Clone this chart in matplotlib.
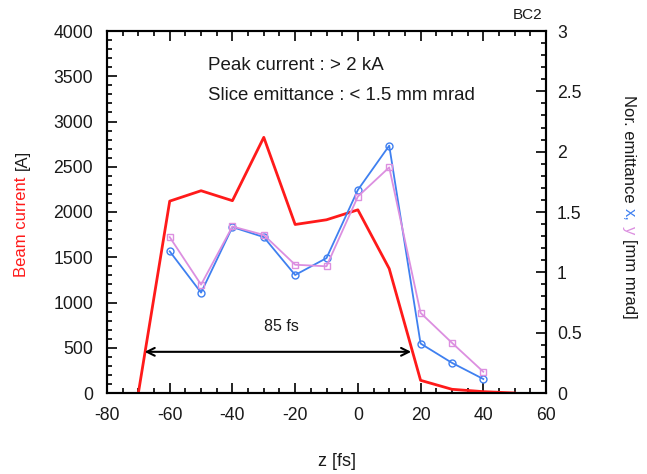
import matplotlib
matplotlib.use("Agg")
import matplotlib.pyplot as plt
from matplotlib.ticker import MultipleLocator

plt.rcParams['font.family'] = ['Liberation Sans', 'DejaVu Sans']
plt.rcParams['axes.unicode_minus'] = False

# Data
z_current = [-70, -60, -50, -40, -30, -20, -10, 0, 10, 20, 30, 40, 50]
current = [0, 2120, 2235, 2125, 2825, 1862, 1914, 2024, 1374, 140, 41, 15, 0]

z_emit = [-60, -50, -40, -30, -20, -10, 0, 10, 20, 30, 40]
emit_x = [1.174, 0.832, 1.375, 1.292, 0.978, 1.118, 1.683, 2.05, 0.41, 0.25, 0.116]
emit_y = [1.292, 0.898, 1.38, 1.31, 1.063, 1.05, 1.628, 1.87, 0.664, 0.416, 0.176]

arrow_start, arrow_end, arrow_level = -68, 17, 455

RED = '#ff1a1a'
BLUE = '#3f80f0'
PINK = '#dc8fe0'
TXT = '#1a1a1a'

W, H = 647, 474
fig = plt.figure(figsize=(W/100, H/100), dpi=100)
L, R, T, B = 107, 546, 31, 393
ax = fig.add_axes([L/W, 1-B/H, (R-L)/W, (B-T)/H])
ax2 = ax.twinx()

ax.plot(z_current, current, color=RED, lw=2.0, zorder=3)
ax2.plot(z_emit, emit_x, color=BLUE, lw=1.3, marker='o', ms=5, mfc='none', mec=BLUE, mew=1.0)
ax2.plot(z_emit, emit_y, color=PINK, lw=1.3, marker='s', ms=5, mfc='none', mec=PINK, mew=1.0)

ax.set_xlim(-80, 60)
ax.set_ylim(0, 4000)
ax2.set_ylim(0, 3)

fs = 12.7
ax.xaxis.set_major_locator(MultipleLocator(20))
ax.xaxis.set_minor_locator(MultipleLocator(5))
ax.yaxis.set_major_locator(MultipleLocator(500))
ax.yaxis.set_minor_locator(MultipleLocator(100))
ax2.yaxis.set_minor_locator(MultipleLocator(0.1))
ax2.set_yticks([0, 0.5, 1, 1.5, 2, 2.5, 3])
ax2.set_yticklabels(['0', '0.5', '1', '1.5', '2', '2.5', '3'])

ax.tick_params(axis='x', which='both', direction='in', top=True, labelsize=fs, pad=10, labelcolor=TXT)
ax.tick_params(axis='y', which='both', direction='in', right=False, labelsize=fs, pad=10, labelcolor=TXT)
ax.tick_params(which='major', length=7, width=1.2)
ax.tick_params(which='minor', length=3.5, width=1.2)
ax2.tick_params(axis='y', which='both', direction='in', labelsize=fs, pad=8, labelcolor=TXT)
ax2.tick_params(which='major', length=7, width=1.2)
ax2.tick_params(which='minor', length=3.5, width=1.2)
for a in (ax, ax2):
    for s in a.spines.values():
        s.set_linewidth(1.5)

ax.annotate('', xy=(arrow_start, arrow_level), xytext=(arrow_end, arrow_level),
            arrowprops=dict(arrowstyle='<->', color='black', lw=1.5,
                            shrinkA=0, shrinkB=0, mutation_scale=14))
ax.text(-24.5, 740, '85 fs', ha='center', va='center', fontsize=11.5, color=TXT)

fig.text(208/W, 1-65/H, 'Peak current : > 2 kA', ha='left', va='center', fontsize=13.5, color=TXT)
fig.text(208/W, 1-95/H, 'Slice emittance : < 1.5 mm mrad', ha='left', va='center', fontsize=13.4, color=TXT)
fig.text(542/W, 1-15/H, 'BC2', ha='right', va='center', fontsize=11, color=TXT)
fig.text(337/W, 1-462/H, 'z [fs]', ha='center', va='center', fontsize=13, color=TXT)

# multicolour y labels, chained with measured extents
fig.canvas.draw()
rend = fig.canvas.get_renderer()

def chain(pieces, x_px, start_px, direction, fsz, gap):
    rot = 90 if direction > 0 else -90
    pos = start_px
    for s, c in pieces:
        t = fig.text(x_px/W, pos/H, s, rotation=rot, color=c, ha='center',
                     va='bottom' if direction > 0 else 'top', fontsize=fsz)
        bb = t.get_window_extent(rend)
        if direction > 0:
            pos = pos + bb.height + gap
        else:
            pos = pos - bb.height - gap

chain([('Beam current', RED), ('[A]', TXT)], 22, H-277, +1, 12, 7)
chain([('Nor. emittance', TXT), ('x,', BLUE), ('y', PINK), ('[mm mrad]', TXT)], 629, H-95, -1, 12, 5)

fig.savefig('out.png', dpi=100)
